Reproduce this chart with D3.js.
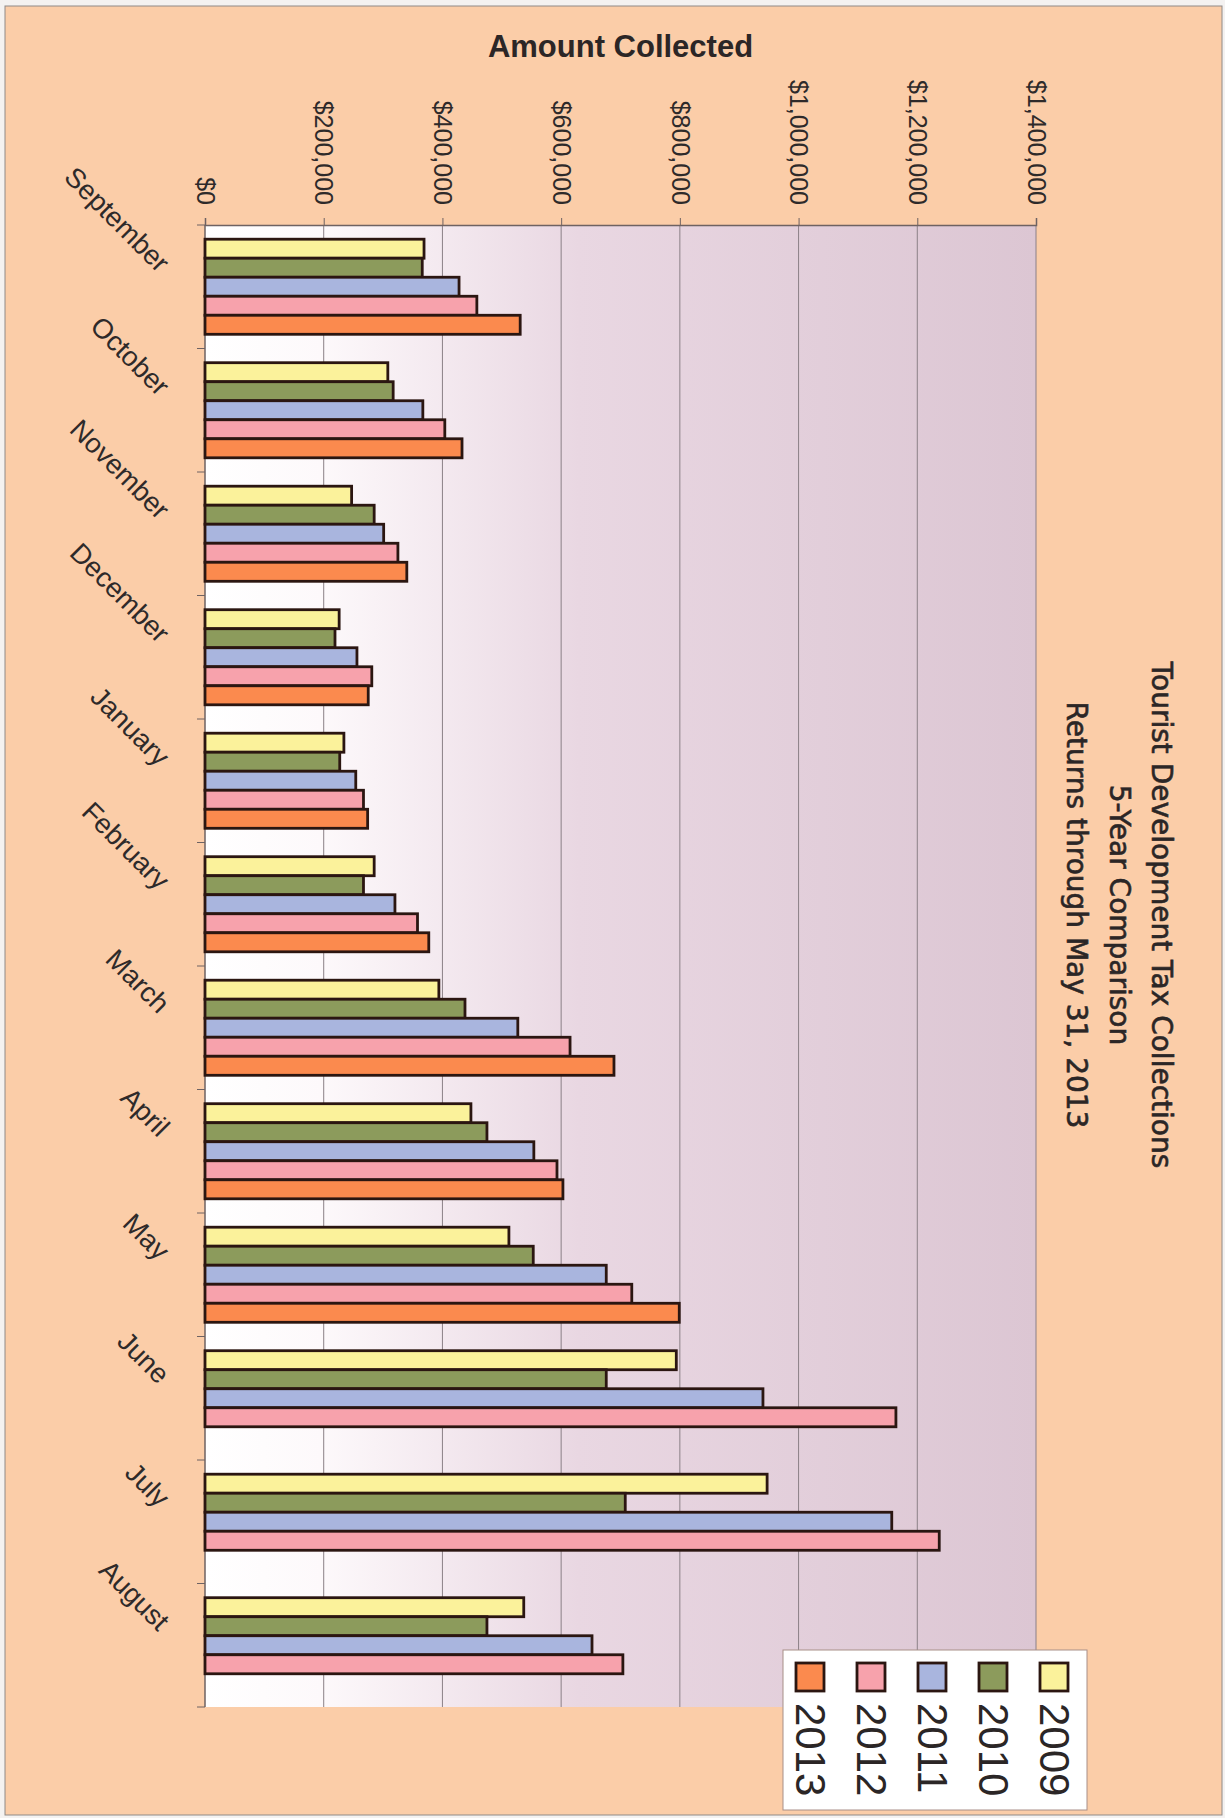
<!DOCTYPE html>
<html>
<head>
<meta charset="utf-8">
<script src="https://cdn.jsdelivr.net/npm/d3@7"></script>
<style>
  body { margin: 0; background: #f4f2f1; }
</style>
</head>
<body>
<div id="chart"></div>
<script>
const months = ["September", "October", "November", "December", "January", "February",
                "March", "April", "May", "June", "July", "August"];
const years = ["2009", "2010", "2011", "2012", "2013"];

const y2009 = [369000, 308000, 247000, 226000, 234000, 285000, 394000, 448000, 512000, 794000, 947000, 537000];
const y2010 = [366000, 317000, 285000, 219000, 227000, 267000, 438000, 475000, 553000, 676000, 708000, 475000];
const y2011 = [428000, 367000, 301000, 256000, 254000, 320000, 527000, 554000, 676000, 940000, 1157000, 652000];
const y2012 = [458000, 404000, 325000, 281000, 267000, 358000, 615000, 593000, 719000, 1164000, 1237000, 704000];
const y2013 = [531000, 433000, 340000, 275000, 274000, 377000, 689000, 603000, 799000, null, null, null];

const tickValues = [0, 200000, 400000, 600000, 800000, 1000000, 1200000, 1400000];
const titleLines = ["Tourist Development Tax Collections", "5-Year Comparison", "Returns through May 31, 2013"];

const series = { "2009": y2009, "2010": y2010, "2011": y2011, "2012": y2012, "2013": y2013 };
const colors = { "2009": "#fbf29b", "2010": "#8c9b5c", "2011": "#a9b5de", "2012": "#f7a2ac", "2013": "#fb8a4e" };

const width = 1225, height = 1818;
const plot = { left: 205, right: 1036, top: 225, bottom: 1707 };

const svg = d3.select("#chart").append("svg")
  .attr("width", width)
  .attr("height", height)
  .style("font-family", "'Liberation Sans', Arial, sans-serif");

// page
svg.append("rect")
  .attr("x", 5).attr("y", 6)
  .attr("width", 1217).attr("height", 1809)
  .attr("fill", "#fbcda8")
  .attr("stroke", "#8f8a88");

const defs = svg.append("defs");
const grad = defs.append("linearGradient").attr("id", "plotbg");
grad.append("stop").attr("offset", "0%").attr("stop-color", "#ffffff");
grad.append("stop").attr("offset", "14%").attr("stop-color", "#fdf9fb");
grad.append("stop").attr("offset", "45%").attr("stop-color", "#e9d7e2");
grad.append("stop").attr("offset", "100%").attr("stop-color", "#dcc6d3");

const x = d3.scaleLinear()
  .domain([0, 1400000])
  .range([plot.left, plot.right]);

const y = d3.scaleBand()
  .domain(months)
  .range([plot.top, plot.bottom])
  .paddingInner(0.23)
  .paddingOuter(0.115);

const yInner = d3.scaleBand()
  .domain(years)
  .range([0, y.bandwidth()]);

// plot background
svg.append("rect")
  .attr("x", plot.left).attr("y", plot.top)
  .attr("width", plot.right - plot.left)
  .attr("height", plot.bottom - plot.top)
  .attr("fill", "url(#plotbg)");

// gridlines
svg.append("g")
  .selectAll("line")
  .data(tickValues.slice(1))
  .join("line")
    .attr("x1", d => x(d)).attr("x2", d => x(d))
    .attr("y1", plot.top).attr("y2", plot.bottom)
    .attr("stroke", "#8b8087")
    .attr("stroke-width", 1);

// value axis (top)
const xAxis = svg.append("g")
  .attr("transform", `translate(0,${plot.top})`)
  .call(d3.axisTop(x).tickValues(tickValues).tickSize(7)
    .tickFormat(d => "$" + d3.format(",")(d)));

xAxis.select(".domain").attr("stroke", "#6e6262").attr("stroke-width", 1.5);
xAxis.selectAll(".tick line").attr("stroke", "#6e6262");
xAxis.selectAll(".tick text")
  .attr("transform", "rotate(90)")
  .attr("x", -20)
  .attr("y", 0)
  .attr("dy", "0.35em")
  .attr("text-anchor", "end")
  .attr("font-size", 25)
  .attr("fill", "#2e2a2a");

// category axis (left)
svg.append("line")
  .attr("x1", plot.left).attr("x2", plot.left)
  .attr("y1", plot.top).attr("y2", plot.bottom)
  .attr("stroke", "#6e6262")
  .attr("stroke-width", 1.5);

svg.append("g")
  .selectAll("line")
  .data(d3.range(months.length + 1))
  .join("line")
    .attr("x1", plot.left - 8).attr("x2", plot.left)
    .attr("y1", i => plot.top + i * y.step())
    .attr("y2", i => plot.top + i * y.step())
    .attr("stroke", "#6e6262");

svg.append("g")
  .selectAll("text")
  .data(months)
  .join("text")
    .attr("transform", d => `translate(${plot.left - 47},${y(d) + y.bandwidth() / 2 - 13}) rotate(45)`)
    .attr("text-anchor", "end")
    .attr("font-size", 27.5)
    .attr("fill", "#2e2a2a")
    .text(d => d);

// bars
const barData = years.flatMap(yr => months.map((m, i) => ({ year: yr, month: m, value: series[yr][i] })))
  .filter(d => d.value != null);

svg.append("g")
  .selectAll("rect")
  .data(barData)
  .join("rect")
    .attr("x", x(0))
    .attr("y", d => y(d.month) + yInner(d.year))
    .attr("width", d => x(d.value) - x(0))
    .attr("height", yInner.bandwidth())
    .attr("fill", d => colors[d.year])
    .attr("stroke", "#2b1611")
    .attr("stroke-width", 2.8);

// axis title
svg.append("text")
  .attr("x", (plot.left + plot.right) / 2)
  .attr("y", 57)
  .attr("text-anchor", "middle")
  .attr("font-size", 31)
  .attr("font-weight", "bold")
  .attr("fill", "#2b2626")
  .text("Amount Collected");

// chart title (rotated)
const titleX = d3.scaleLinear().domain([0, 2]).range([1152, 1067]);
svg.append("g")
  .selectAll("text")
  .data(titleLines)
  .join("text")
    .attr("transform", (d, i) => `translate(${titleX(i)},915) rotate(90)`)
    .attr("text-anchor", "middle")
    .attr("font-family", "'Comic Sans MS', 'DejaVu Sans', sans-serif")
    .attr("font-size", 28)
    .attr("fill", "#2b2626")
    .attr("stroke", "#2b2626")
    .attr("stroke-width", 0.6)
    .text(d => d);

// legend
const legendYears = years.slice().reverse();
const lx = d3.scaleBand().domain(legendYears).range([790, 1095]);

const legend = svg.append("g");
legend.append("rect")
  .attr("x", 783).attr("y", 1650)
  .attr("width", 304).attr("height", 160)
  .attr("fill", "#ffffff")
  .attr("stroke", "#a88f88");

legend.selectAll(".sw")
  .data(legendYears)
  .join("rect")
    .attr("class", "sw")
    .attr("x", d => lx(d) + 6)
    .attr("y", 1663)
    .attr("width", 28).attr("height", 28)
    .attr("fill", d => colors[d])
    .attr("stroke", "#2b1611")
    .attr("stroke-width", 2.8);

legend.selectAll(".lt")
  .data(legendYears)
  .join("text")
    .attr("class", "lt")
    .attr("transform", d => `translate(${lx(d) + 6},1703) rotate(90)`)
    .attr("font-size", 42)
    .attr("fill", "#2b2626")
    .text(d => d);
</script>
</body>
</html>
